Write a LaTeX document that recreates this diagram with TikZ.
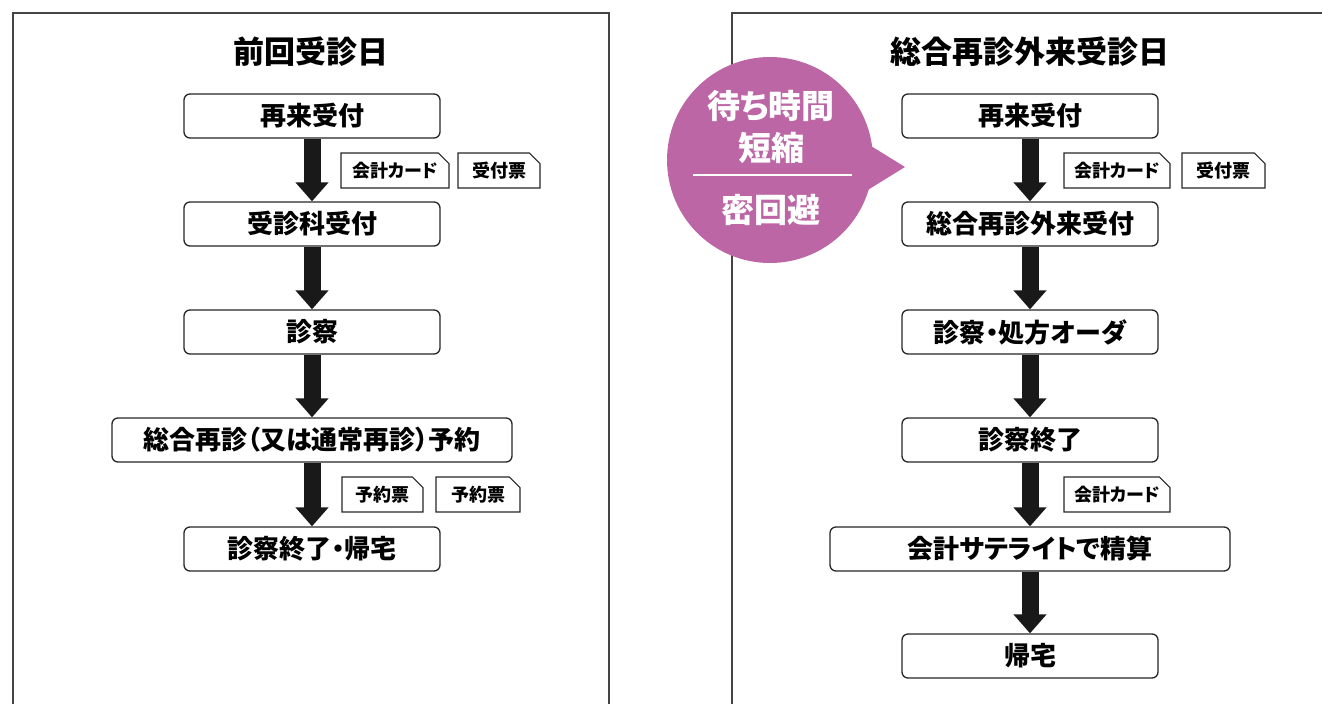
\documentclass[tikz,border=0pt]{standalone}
\usepackage{fontspec}
\setmainfont{Noto Sans CJK JP}[RawFeature=+palt]
\usetikzlibrary{arrows.meta,shapes.misc}

\definecolor{bubblepink}{HTML}{BD66A5}
\definecolor{framegray}{HTML}{444444}

\tikzset{
	step box/.style={draw=black!85, line width=1.3pt, rounded corners=6pt, fill=white,
		minimum width=256pt, minimum height=44pt, inner sep=0pt,
		font=\fontsize{26}{26}\selectfont\bfseries},
	wide box/.style={step box, minimum width=400pt},
	tag/.style={draw=black!85, line width=1.1pt, fill=white, chamfered rectangle,
		chamfered rectangle corners=north east, chamfered rectangle xsep=7pt,
		chamfered rectangle angle=45, minimum height=35pt, inner sep=0pt,
		font=\fontsize{18}{18}\selectfont\bfseries},
	flow/.style={line width=17pt, -{Triangle[width=32pt,length=19pt]}, black!90},
	title/.style={font=\fontsize{31}{31}\selectfont\bfseries},
	bubble text/.style={white, font=\fontsize{33}{33}\selectfont\bfseries}
}

\begin{document}
\begin{tikzpicture}[x=1pt,y=-1pt]
	\useasboundingbox (0,0) rectangle (1322,704);

	% The two frames
	\draw[framegray, line width=1.6pt] (13,704) -- (13,13) -- (609,13) -- (609,704);
	\draw[framegray, line width=1.6pt] (732,704) -- (732,13) -- (1322,13);

	% Left: the visit before
	\node[title] (ltitle) at (311,52) {前回受診日};
	\node[step box] (l1) at (312,116) {再来受付};
	\node[step box] (l2) at (312,224) {受診科受付};
	\node[step box] (l3) at (312,332) {診察};
	\node[wide box] (l4) at (312,440) {総合再診（又は通常再診）予約};
	\node[step box] (l5) at (312,549) {診察終了・帰宅};

	\draw[flow] (l1) -- (l2);
	\draw[flow] (l2) -- (l3);
	\draw[flow] (l3) -- (l4);
	\draw[flow] (l4) -- (l5);

	\node[tag, minimum width=108pt] (lt1) at (395,170.5) {会計カード};
	\node[tag, minimum width=82pt] (lt2) at (499,170.5) {受付票};
	\node[tag, minimum width=81pt] (lt3) at (382.5,494.5) {予約票};
	\node[tag, minimum width=84pt] (lt4) at (478,494.5) {予約票};

	% Right: the day of the visit
	\node[title] (rtitle) at (1030,52) {総合再診外来受診日};
	\node[step box] (r1) at (1030,116) {再来受付};
	\node[step box] (r2) at (1030,224) {総合再診外来受付};
	\node[step box] (r3) at (1030,332) {診察・処方オーダ};
	\node[step box] (r4) at (1030,440) {診察終了};
	\node[wide box] (r5) at (1030,549) {会計サテライトで精算};
	\node[step box] (r6) at (1030,656) {帰宅};

	\draw[flow] (r1) -- (r2);
	\draw[flow] (r2) -- (r3);
	\draw[flow] (r3) -- (r4);
	\draw[flow] (r4) -- (r5);
	\draw[flow] (r5) -- (r6);

	\node[tag, minimum width=106pt] (rt1) at (1117,170.5) {会計カード};
	\node[tag, minimum width=83pt] (rt2) at (1223.5,170.5) {受付票};
	\node[tag, minimum width=106pt] (rt3) at (1117,494.5) {会計カード};

	% The speech bubble
	\fill[bubblepink] (770,160) circle (103);
	\fill[bubblepink] (858,138) -- (905,167) -- (858,196) -- cycle;
	\node[bubble text] (b1) at (771,106) {待ち時間};
	\node[bubble text] (b2) at (771,148) {短縮};
	\node[bubble text] (b3) at (771,210) {密回避};
	\draw[white, line width=2.5pt] (693,175) -- (852,175);
\end{tikzpicture}
\end{document}
